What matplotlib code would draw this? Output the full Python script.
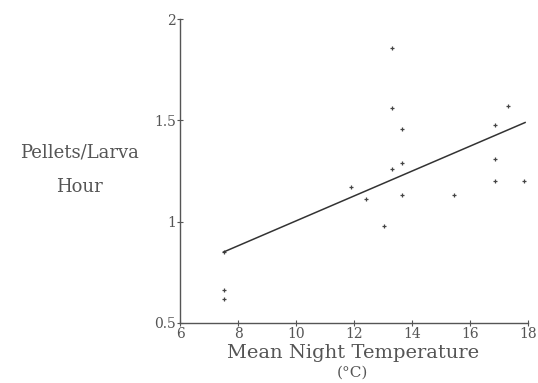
import matplotlib.pyplot as plt

# mean night temperature (deg C) and pellets per larva per hour
temp = [7.5, 7.5, 7.5, 11.9, 12.4, 13.05, 13.3, 13.3, 13.3, 13.65, 13.65, 13.65,
        15.45, 16.85, 16.85, 16.85, 17.3, 17.85]
pellets = [0.85, 0.66, 0.62, 1.17, 1.11, 0.98, 1.86, 1.56, 1.26, 1.46, 1.29, 1.13,
           1.13, 1.48, 1.31, 1.20, 1.57, 1.20]

# fitted regression line end points
fit_x = [7.5, 17.9]
fit_y = [0.85, 1.49]

xticks = [6, 8, 10, 12, 14, 16, 18]
yticks = [0.5, 1, 1.5, 2]
ytick_labels = ['0.5', '1', '1.5', '2']

txt = '#555555'
plt.rcParams['font.family'] = 'DejaVu Serif'

fig = plt.figure(figsize=(5.38, 3.83), dpi=100)
ax = fig.add_axes([0.3346, 0.157, 0.6468, 0.7926])

ax.plot(temp, pellets, linestyle='none', marker='+', markersize=3.5,
        markeredgewidth=0.9, color='#444444')
ax.plot(fit_x, fit_y, color='#333333', linewidth=1.1)

ax.set_xlim(6, 18)
ax.set_ylim(0.5, 2)
ax.set_xticks(xticks)
ax.set_yticks(yticks)
ax.set_yticklabels(ytick_labels)

for s in ['top', 'right']:
    ax.spines[s].set_visible(False)
for s in ['left', 'bottom']:
    ax.spines[s].set_color('#555555')
    ax.spines[s].set_linewidth(1.0)

ax.tick_params(direction='inout', length=4, width=0.8, colors='#555555',
               labelcolor=txt, labelsize=10, pad=1)

fig.text(0.147, 0.603, 'Pellets/Larva', ha='center', va='center',
         fontsize=13, color=txt)
fig.text(0.147, 0.512, 'Hour', ha='center', va='center',
         fontsize=13, color=txt)
fig.text(0.656, 0.078, 'Mean Night Temperature', ha='center', va='center',
         fontsize=14, color=txt)
fig.text(0.656, 0.028, '(\u00b0C)', ha='center', va='center',
         fontsize=11, color=txt)

fig.savefig('out.png', dpi=100)
